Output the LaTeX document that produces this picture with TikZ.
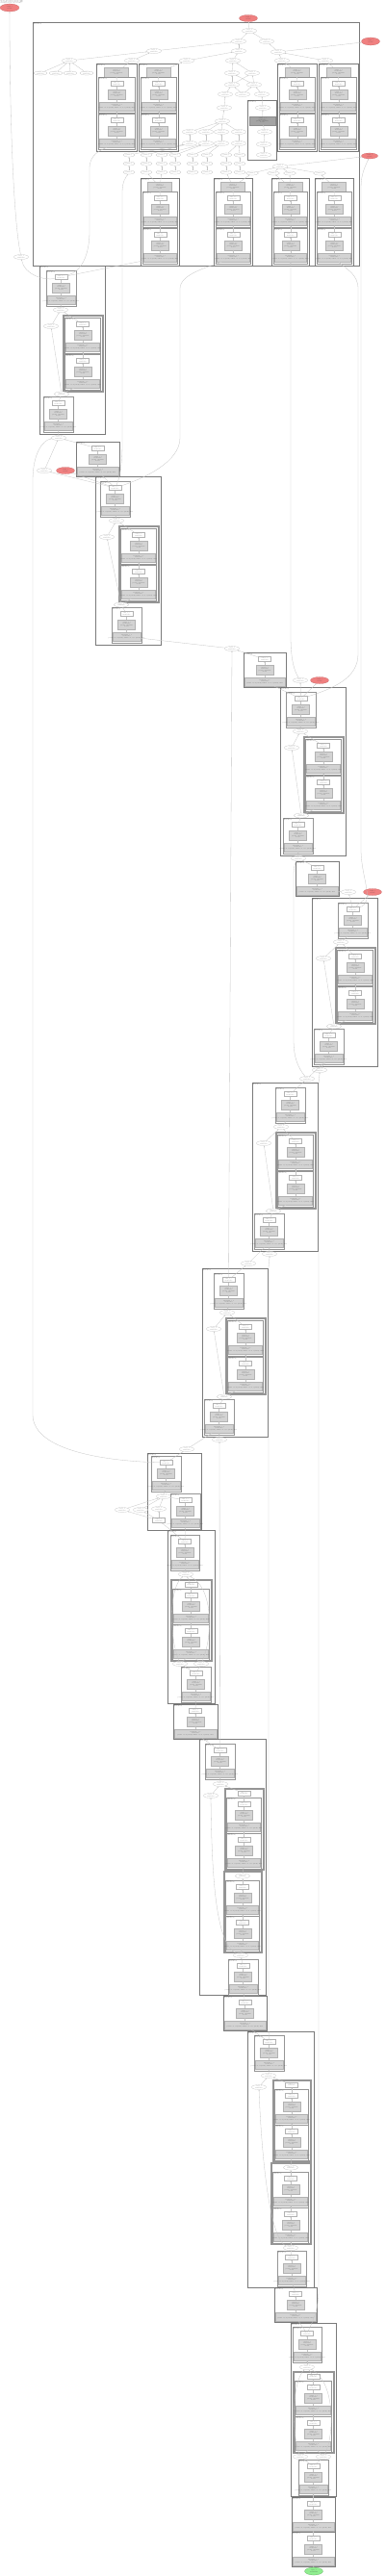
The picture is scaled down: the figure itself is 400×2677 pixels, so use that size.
\documentclass[tikz,border=0pt]{standalone}
\usetikzlibrary{shapes.geometric,arrows.meta}
\definecolor{clusline}{HTML}{7A7A7A}
\definecolor{sclusline}{HTML}{959595}
\definecolor{edgec}{HTML}{C4C4C4}
\definecolor{gfill}{HTML}{D3D3D3}
\definecolor{dfill}{HTML}{A3A3A3}
\definecolor{redf}{HTML}{F08080}
\definecolor{greenf}{HTML}{90EE90}
\newcommand{\lbl}{\fontsize{1.1}{1.3}\selectfont}
\newcommand{\Lw}{relu\_1\_5\\1x64x56x56}
\newcommand{\Lg}{conv2d\_1\_3\\1x64x56x56\\params: 64x64x3x3\\@conv1}
\newcommand{\Lwg}{batchnorm\_1\_4\\1x64x56x56\\\makebox[0pt]{params: 64, 64 (512 B); buffers: 64, 64, 1 (520 B); @bn1}}
\newcommand{\Le}{add\_1\_7\\1x64x56x56}
\newcommand{\Les}{getitem\_1}
\newcommand{\Lc}{@layer1.0\\(BasicBlock)}
\newcommand{\Lr}{output\_1\\1x1000}
\tikzset{
  clus/.style={draw=clusline, line width=0.6pt},
  sclus/.style={draw=sclusline, line width=0.4pt},
  nd/.style={font=\lbl, align=center, inner sep=0pt, text=black!80, line width=0.2pt},
  wbox/.style={nd, rectangle, draw=black!30, fill=white, minimum width=13pt, minimum height=5pt},
  gbox/.style={nd, rectangle, draw=black!30, fill=gfill, minimum width=18pt, minimum height=9.5pt},
  wgbox/.style={gbox, minimum height=9pt},
  dbox/.style={nd, rectangle, draw=black!45, fill=dfill, minimum width=27pt, minimum height=9pt},
  ell/.style={nd, ellipse, draw=black!28, fill=white, minimum width=15pt, minimum height=5pt},
  sell/.style={ell, minimum width=12pt, minimum height=4pt},
  rell/.style={nd, ellipse, draw=redf!80!black, fill=redf, minimum width=19pt, minimum height=7pt},
  gell/.style={nd, ellipse, draw=greenf!70!black, fill=greenf, minimum width=19pt, minimum height=8pt},
  ctxt/.style={font=\lbl, anchor=north west, align=left, inner sep=0pt, text=black!80},
  conn/.style={draw=edgec, line width=0.3pt, -{Stealth[length=1.4pt,width=1.1pt]}},
}
\newcommand{\stkin}[4]{%
  \pgfmathsetmacro{\sCX}{((#2)+(#3))/2}%
  \pgfmathsetmacro{\sWW}{(#3)-(#2)-2}%
  \node[wbox] (#1a) at (\sCX,{#4+7}) {\Lw};
  \node[gbox] (#1b) at (\sCX,{#4+18}) {\Lg};
  \node[wgbox,minimum width=\sWW] (#1c) at (\sCX,{#4+30.5}) {\Lwg};
  \draw[conn] (#1c) -- (#1b);
  \draw[conn] (#1b) -- (#1a);
}
\newcommand{\stk}[4]{%
  \draw[sclus] ({#2},{#4}) rectangle ({#3},{#4+37});
  \node[ctxt] (#1t) at ({#2+0.6},{#4+0.5}) {\Lc};
  \stkin{#1}{#2}{#3}{#4}%
}
\newcommand{\mstk}[4]{%
  \draw[clus] ({#2},{#4}) rectangle ({#3},{#4+36});
  \node[ctxt] (#1t) at ({#2+0.6},{#4+0.5}) {\Lc};
  \stkin{#1}{#2}{#3}{#4}%
}
\newcommand{\dstk}[4]{%
  \draw[sclus] ({#2},{#4}) rectangle ({#3},{#4+80});
  \draw[sclus] ({#2+1.2},{#4+1.2}) rectangle ({#3-1.2},{#4+78.8});
  \stk{#1P}{#2+2.5}{#3-2.5}{#4+3}%
  \stk{#1Q}{#2+2.5}{#3-2.5}{#4+41}%
  \draw[conn] (#1Qa) -- (#1Pc);
}
\newcommand{\hstk}[5]{%
  \pgfmathsetmacro{\hCX}{((#2)+(#3))/2}%
  \draw[sclus] ({#2},{#4}) rectangle ({#3},{#4+85});
  \draw[sclus] ({#2+1.2},{#4+1.2}) rectangle ({#3-1.2},{#4+83.8});
  \node[#5] (#1h) at (\hCX,{#4+5.5}) {\Lw};
  \stk{#1P}{#2+2.5}{#3-2.5}{#4+10}%
  \stk{#1Q}{#2+2.5}{#3-2.5}{#4+47}%
  \draw[conn] (#1Pa) -- (#1h);
  \draw[conn] (#1Qa) -- (#1Pc);
}
\newcommand{\gmod}[4]{%
  \pgfmathsetmacro{\gCX}{((#2)+(#3))/2}%
  \draw[clus] ({#2},{#4}) rectangle ({#3},{#4+91});
  \node[ctxt] (#1t) at ({#2+0.6},{#4+0.5}) {\Lc};
  \node[gbox,minimum width=25pt] (#1h) at (\gCX,{#4+9}) {\Lg};
  \stk{#1P}{#2+2}{#3-1.5}{#4+14}%
  \stk{#1Q}{#2+2}{#3-1.5}{#4+52}%
  \draw[conn] (#1Pa) -- (#1h);
  \draw[conn] (#1Qa) -- (#1Pc);
}
\newcommand{\resblk}[7]{%
  \draw[clus] ({#2},{#3}) rectangle ({#2+68},{#3+175});
  \node[ctxt] (#1t) at ({#2+0.6},{#3+0.5}) {\Lc};
  \stk{#1S}{#2+#4}{#2+#4+31}{#3+5}%
  \node[ell] (#1add) at ({#2+#5},{#3+46}) {\Le};
  \node[ell] (#1side) at ({#2+12},{#3+63}) {\Le};
  \dstk{#1D}{#2+24}{#2+66}{#3+51}%
  \node[ell] (#1low) at ({#2+#7},{#3+133.5}) {\Le};
  \stk{#1T}{#2+#6}{#2+#6+31}{#3+136}%
  \draw[conn] (#1add) -- (#1Sc);
  \draw[conn] (#1side) -- (#1add);
  \draw[conn] (#1DPa) -- (#1add);
  \draw[conn] (#1low) -- (#1DQc);
  \draw[conn] (#1low) -- (#1side);
  \draw[conn] (#1Ta) -- (#1low);
}
\begin{document}
\begin{tikzpicture}[x=1pt,y=-1pt]
\useasboundingbox (0,0) rectangle (400,2677);
\node[ctxt] (cap) at (0.4,0.3) {Model: 245 tensors total (18.3 MB)\\ 62 params total (11.7 M, 44.6 MB)\\ 21 buffers total (9.6 K, 38.3 KB)};

\node[rell,minimum width=20pt,minimum height=8pt] (R0) at (10,8) {\Lr};
\node[rell] (R1) at (258,19) {\Lr};
\node[rell,minimum height=8pt] (R2) at (385,43) {\Lr};
\node[rell,minimum width=17pt,minimum height=6pt] (R3) at (384,162) {\Lr};

\draw[clus] (34,23) rectangle (373,276);
\node[ctxt] (bigt) at (34.6,23.5) {\Lc};

\node[ell] (t1) at (259,32) {\Le};
\node[ell] (t2) at (248,43) {\Le};
\node[ell] (t3) at (277,43) {\Le};
\node[ell] (t4) at (160,53) {\Le};
\node[ell] (t5) at (248,53) {\Le};
\node[ell] (t6) at (289,54) {\Le};
\node[ell] (t7) at (72,63) {\Le};
\node[ell] (t8) at (137,63) {\Le};
\node[ell] (t9) at (194,63) {\Le};
\node[ell] (t10) at (242,63) {\Le};
\node[ell] (t11) at (293,63) {\Le};
\node[ell] (t12) at (338,63) {\Le};
\foreach \n/\x in {1/42,2/58,3/73,4/90} {
  \node[sell,minimum width=14pt] (l\n) at (\x,76) {\Le};
  \draw[conn] (l\n) -- (t7);
}
\node[ell] (t13) at (241,76) {\Le};
\node[ell] (t14) at (262,76) {\Le};
\node[ell] (t15) at (241,88) {\Le};
\node[ell] (t16) at (264,88) {\Le};
\node[ell] (t17) at (234,98) {\Le};
\node[ell] (t18) at (252,98) {\Le};
\node[ell] (t19) at (272,98) {\Le};
\node[ell] (t20) at (233,112) {\Le};
\node[ell] (t21) at (231,126) {\Le};
\foreach \n/\x in {a/197,b/214,c/230,d/248} {
  \node[ell] (r1\n) at (\x,137) {\Le};
  \node[ell] (r2\n) at (\x,149) {\Le};
  \draw[conn] (r1\n) -- (t21);
  \draw[conn] (r2\n) -- (r1\n);
}
\draw[clus] (257,104) rectangle (287,166);
\node[ctxt] (c5t) at (257.6,104.5) {\Lc};
\node[ell] (c5a) at (273,112) {\Le};
\node[dbox] (c5b) at (272.5,125.5) {\Lg};
\node[ell] (c5c) at (275,137) {\Le};
\node[ell] (c5d) at (274,150) {\Le};
\node[ell] (c5e) at (274,161) {\Le};
\draw[conn] (c5a) -- (t19);
\draw[conn] (c5b) -- (c5a);
\draw[conn] (c5c) -- (c5b);
\draw[conn] (c5d) -- (c5c);
\draw[conn] (c5e) -- (c5d);
\foreach \n/\x in {1/134,2/152,3/168,4/182,5/200,6/215,7/235,8/249} {
  \node[sell] (p\n) at (\x,161) {\Les};
  \node[sell] (q\n) at (\x,170) {\Les};
  \node[sell] (s\n) at (\x,179) {\Les};
  \draw[conn] (q\n) -- (p\n);
  \draw[conn] (s\n) -- (q\n);
}
\draw[conn] (p1) -- (r2a); \draw[conn] (p2) -- (r2a);
\draw[conn] (p3) -- (r2b); \draw[conn] (p4) -- (r2b);
\draw[conn] (p5) -- (r2c); \draw[conn] (p6) -- (r2c);
\draw[conn] (p7) -- (r2d); \draw[conn] (p8) -- (r2d);
\node[ell] (t22) at (291,173) {\Le};
\foreach \n/\x in {1/262,2/284,3/301,4/332} {
  \node[sell,minimum width=13pt] (u\n) at (\x,180) {\Les};
  \draw[conn] (u\n) -- (t22);
}
\draw[conn] (t22) -- (R3);

\gmod{g1}{100}{142}{66}
\gmod{g2}{144}{185}{66}
\gmod{g3}{288}{329}{66}
\gmod{g4}{331}{372}{66}
\gmod{g5}{146}{186}{185}
\gmod{g6}{222}{262}{185}
\gmod{g7}{282}{321}{185}
\gmod{g8}{327}{367}{185}

\draw[conn] (t1) -- (R1);
\draw[conn] (t2) -- (t1); \draw[conn] (t3) -- (t1);
\draw[conn] (t4) -- (t2); \draw[conn] (t5) -- (t2);
\draw[conn] (t6) -- (t3); \draw[conn] (t6) -- (R2);
\draw[conn] (t7) -- (t4); \draw[conn] (t8) -- (t4);
\draw[conn] (t9) -- (t5); \draw[conn] (t10) -- (t5);
\draw[conn] (t11) -- (t6); \draw[conn] (t12) -- (t6);
\draw[conn] (g1h) -- (t8); \draw[conn] (g2h) -- (t9);
\draw[conn] (g3h) -- (t11); \draw[conn] (g4h) -- (t12);
\draw[conn] (t13) -- (t10); \draw[conn] (t14) -- (t10);
\draw[conn] (t15) -- (t13); \draw[conn] (t15) -- (t14);
\draw[conn] (t16) -- (t13); \draw[conn] (t16) -- (t14);
\draw[conn] (t17) -- (t15); \draw[conn] (t18) -- (t15);
\draw[conn] (t18) -- (t16); \draw[conn] (t19) -- (t16);
\draw[conn] (t20) -- (t17); \draw[conn] (t21) -- (t20);
\draw[conn] (g5h) -- (s3); \draw[conn] (g5h) -- (s2);
\draw[conn] (g6h) -- (s7); \draw[conn] (g6h) -- (u1);
\draw[conn] (g7h) -- (u2); \draw[conn] (g7h) -- (u3);
\draw[conn] (g8h) -- (u4);

\resblk{A}{41}{276}{7}{22}{4}{23}
\node[ell] (aside) at (22,267) {\Le};
\node[ell] (e455) at (61,455) {\Le};
\mstk{B}{79}{124}{459}
\node[ell] (e489) at (46,489) {\Le};
\node[rell] (r489) at (68,489) {\Lr};
\resblk{C}{99}{495}{5}{22}{17}{27}
\node[ell] (e674) at (241,674) {\Le};
\mstk{D}{253}{297}{678}
\node[ell] (e707) at (312,707) {\Le};
\node[rell] (r707) at (332,707) {\Lr};
\resblk{E}{291}{714}{6}{21}{3}{22}
\node[ell] (e892) at (310,892) {\Le};
\mstk{F}{307}{352}{895}
\node[ell] (e927) at (362,927) {\Le};
\node[rell] (r927) at (387,927) {\Lr};
\resblk{G}{324}{933}{27}{30}{2}{23}
\node[ell] (e1112) at (332,1112) {\Le};
\node[ell] (e1121) at (319,1121) {\Le};
\resblk{H}{262}{1125}{24}{30}{2}{22}
\node[ell] (e1303) at (280,1303) {\Le};
\node[ell] (e1313) at (258,1313) {\Le};
\resblk{I}{210}{1318}{12}{26}{2}{23}
\node[ell] (e1496) at (228,1496) {\Le};
\node[ell] (e1506) at (194,1506) {\Le};

\draw[clus] (153,1510) rectangle (209,1590);
\node[ctxt] (Jt) at (153.6,1510.5) {\Lc};
\stk{JS}{157}{188}{1513}
\node[ell] (eJ) at (170,1555) {\Le};
\stk{J2}{177}{208}{1552}
\node[ell] (e127) at (127,1569) {\Le};
\node[ell] (e146) at (146,1569) {\Le};
\node[ell] (e166) at (165,1568) {\Le};
\node[wbox] (b166) at (165,1580) {\Lw};
\draw[conn] (eJ) -- (JSc);
\draw[conn] (J2a) -- (eJ);
\draw[conn] (e166) -- (eJ);
\draw[conn] (e127) -- (eJ);
\draw[conn] (e146) -- (eJ);
\draw[conn] (b166) -- (e166);
\draw[conn] (b166) -- (e127);
\draw[conn] (b166) -- (e146);

\draw[clus] (174,1590) rectangle (223,1770);
\node[ctxt] (Kt) at (174.6,1590.5) {\Lc};
\stk{KS}{177}{207}{1595}
\node[ell] (eK) at (193,1636) {\Le};
\hstk{KR}{177}{220}{1641}{wbox}
\node[ell] (eK1) at (187,1729) {\Le};
\node[ell] (eK2) at (209,1729) {\Le};
\stk{KT}{188}{219}{1732}
\draw[conn] (KSa) -- (J2c);
\draw[conn] (KSa) -- (b166);
\draw[conn] (eK) -- (KSc);
\draw[conn] (KRh) -- (eK);
\draw[conn] (eK1) -- (KRQc);
\draw[conn] (eK2) -- (KRQc);
\draw[conn] (eK1) .. controls (175.5,1700) and (175.5,1650) .. (eK);
\draw[conn] (eK2) .. controls (221.5,1700) and (221.5,1650) .. (eK);
\draw[conn] (KTa) -- (eK1);
\draw[conn] (KTa) -- (eK2);

\mstk{L}{180}{226}{1771}
\draw[conn] (La) -- (KTc);

\draw[clus] (207,1807) rectangle (276,2073);
\node[ctxt] (Mt) at (207.6,1807.5) {\Lc};
\stk{MS}{213}{244}{1812}
\node[ell] (eM) at (229,1854) {\Le};
\node[ell] (eMs) at (219,1866) {\Le};
\hstk{MD}{233}{274}{1858}{wbox}
\hstk{ME}{232}{272}{1944}{ell}
\node[ell] (eMl) at (250,2032) {\Le};
\stk{MT}{237}{268}{2036}
\draw[conn] (MSa) -- (Lc);
\draw[conn] (eM) -- (MSc);
\draw[conn] (eMs) -- (eM);
\draw[conn] (MDh) -- (eM);
\draw[conn] (MEh) -- (MDQc);
\draw[conn] (eMl) -- (MEQc);
\draw[conn] (eMl) .. controls (224,2020) and (220,1950) .. (eMs);
\draw[conn] (MTa) -- (eMl);

\mstk{N}{232}{277}{2074}
\draw[conn] (Na) -- (MTc);

\draw[clus] (257,2111) rectangle (326,2377);
\node[ctxt] (Ot) at (257.6,2111.5) {\Lc};
\stk{OS}{264}{295}{2115}
\node[ell] (eO) at (279,2157) {\Le};
\node[ell] (eOs) at (269,2169) {\Le};
\hstk{OD}{283}{323}{2161}{wbox}
\hstk{OE}{281}{323}{2247}{ell}
\node[ell] (eOl) at (302,2336) {\Le};
\stk{OT}{288}{318}{2339}
\draw[conn] (OSa) -- (Nc);
\draw[conn] (eO) -- (OSc);
\draw[conn] (eOs) -- (eO);
\draw[conn] (ODh) -- (eO);
\draw[conn] (OEh) -- (ODQc);
\draw[conn] (eOl) -- (OEQc);
\draw[conn] (eOl) .. controls (276,2325) and (270,2200) .. (eOs);
\draw[conn] (OTa) -- (eOl);

\mstk{P}{285}{329}{2377}
\draw[conn] (Pa) -- (OTc);

\draw[clus] (302,2414) rectangle (349,2594);
\node[ctxt] (Qt) at (302.6,2414.5) {\Lc};
\stk{QS}{304}{334}{2418}
\node[ell] (eQ) at (319,2460) {\Le};
\hstk{QE}{304}{347}{2464}{wbox}
\node[ell] (eQ1) at (312,2553) {\Le};
\node[ell] (eQ2) at (336,2553) {\Le};
\stk{QT}{310}{341}{2556}
\draw[conn] (QSa) -- (Pc);
\draw[conn] (eQ) -- (QSc);
\draw[conn] (QEh) -- (eQ);
\draw[conn] (eQ1) -- (QEQc);
\draw[conn] (eQ2) -- (QEQc);
\draw[conn] (eQ1) .. controls (303,2530) and (303,2475) .. (eQ);
\draw[conn] (eQ2) .. controls (348,2530) and (348,2475) .. (eQ);
\draw[conn] (QTa) -- (eQ1);
\draw[conn] (QTa) -- (eQ2);

\mstk{R}{303}{348}{2595}
\draw[conn] (Ra) -- (QTc);
\mstk{S}{303}{348}{2631}
\draw[conn] (Sa) -- (Rc);
\node[gell] (inp) at (326,2672) {input\_1\\1x3x224x224};
\draw[conn] (inp) -- (Sc);

\draw[conn] (aside) .. controls (14,230) and (10,120) .. (R0);
\draw[conn] (ASa) .. controls (45,292) and (25,285) .. (aside);
\draw[conn] (ASa) -- (g5Qc);
\draw[conn] (ASa) .. controls (85,282) and (93,265) .. (93,240) -- (93,175) .. controls (93,160) and (105,156) .. (g1Qc);
\draw[conn] (Ba) -- (e455);
\draw[conn] (e455) -- (ATc);
\draw[conn] (CSa) -- (Bc);
\draw[conn] (CSa) -- (r489);
\draw[conn] (CSa) -- (e489);
\draw[conn] (e489) -- (e455);
\draw[conn] (CSa) .. controls (124,498) and (127,485) .. (127,460) -- (127,200) .. controls (127,188) and (131,184) .. (s1);
\draw[conn] (CSa) .. controls (150,497) and (187,480) .. (187,455) -- (187,300) .. controls (187,285) and (215,278) .. (g6Qc);
\draw[conn] (Da) -- (e674);
\draw[conn] (e674) -- (CTc);
\draw[conn] (ESa) -- (Dc);
\draw[conn] (ESa) -- (r707);
\draw[conn] (ESa) -- (e707);
\draw[conn] (e707) .. controls (304,695) and (302,680) .. (302,660) -- (302,300) .. controls (302,285) and (302,280) .. (g7Qc);
\draw[conn] (ESa) .. controls (345,716) and (372,705) .. (372,680) -- (372,300) .. controls (372,285) and (360,280) .. (g8Qc);
\draw[conn] (Fa) -- (e892);
\draw[conn] (e892) -- (ETc);
\draw[conn] (GSa) -- (e927);
\draw[conn] (GSa) -- (r927);
\draw[conn] (e927) -- (Fc);
\draw[conn] (GSa) .. controls (390,938) and (376,915) .. (375,885) -- (375,195) .. controls (375,180) and (380,172) .. (R3);
\draw[conn] (e1112) -- (GTc);
\draw[conn] (e1121) -- (GTc);
\draw[conn] (HSa) -- (e1121);
\draw[conn] (e1121) .. controls (310,1110) and (305,1100) .. (305,1080) -- (305,910) .. controls (305,900) and (307,896) .. (e892);
\draw[conn] (QSa) .. controls (325,2412) and (331,2400) .. (331,2380) -- (331,1130) .. controls (331,1122) and (332,1118) .. (e1112);
\draw[conn] (e1303) -- (HTc);
\draw[conn] (e1313) -- (HTc);
\draw[conn] (ISa) -- (e1313);
\draw[conn] (ISa) -- (e674);
\draw[conn] (OSa) .. controls (279,2112) and (279,2105) .. (279,2090) -- (279,1320) .. controls (279,1312) and (280,1308) .. (e1303);
\draw[conn] (e1496) -- (ITc);
\draw[conn] (e1506) -- (ITc);
\draw[conn] (JSa) -- (e1506);
\draw[conn] (MSa) -- (e1496);
\draw[conn] (JSa) .. controls (100,1518) and (34,1505) .. (34,1470) -- (34,500) .. controls (34,470) and (45,457) .. (e455);
\end{tikzpicture}
\end{document}
